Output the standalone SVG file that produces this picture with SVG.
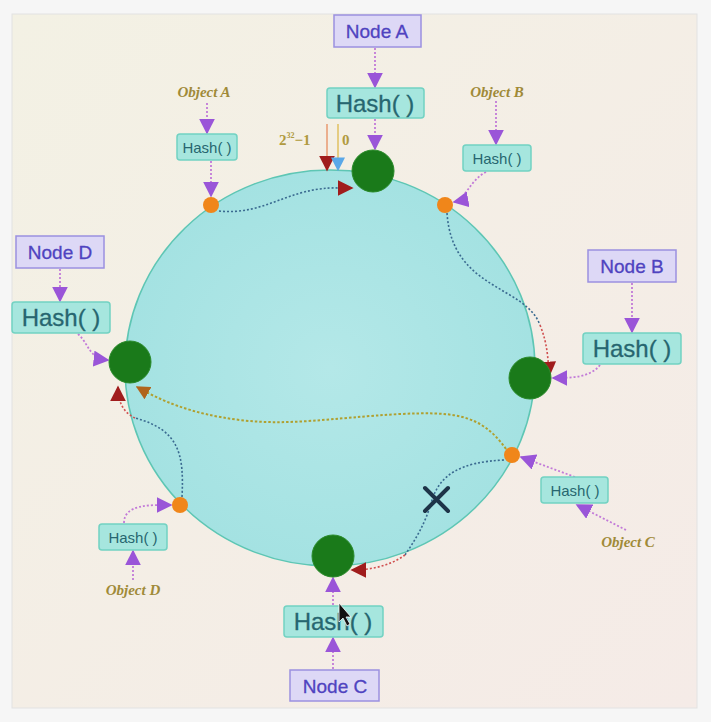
<svg xmlns="http://www.w3.org/2000/svg" width="711" height="722" viewBox="0 0 711 722">
<defs>
<linearGradient id="bg" x1="0" y1="0" x2="1" y2="1">
<stop offset="0" stop-color="#f3f1e4"/><stop offset="1" stop-color="#f5ebe7"/>
</linearGradient>
<radialGradient id="ring" cx="0.5" cy="0.5" r="0.5">
<stop offset="0" stop-color="#b4e8e8"/><stop offset="1" stop-color="#a4e2e2"/>
</radialGradient>
<marker id="pa" viewBox="0 0 10 10" refX="9" refY="5" markerWidth="16" markerHeight="16" markerUnits="userSpaceOnUse" orient="auto"><path d="M0,0 L10,5 L0,10 z" fill="#9a55d8"/></marker>
<marker id="ra" viewBox="0 0 10 10" refX="9" refY="5" markerWidth="16" markerHeight="16" markerUnits="userSpaceOnUse" orient="auto"><path d="M0,0 L10,5 L0,10 z" fill="#a01c1c"/></marker>
<marker id="oa" viewBox="0 0 10 10" refX="9" refY="5" markerWidth="14" markerHeight="14" markerUnits="userSpaceOnUse" orient="auto"><path d="M0,0 L10,5 L0,10 z" fill="#b0641c"/></marker>
<marker id="ba" viewBox="0 0 10 10" refX="9" refY="5" markerWidth="14" markerHeight="14" markerUnits="userSpaceOnUse" orient="auto"><path d="M0,0 L10,5 L0,10 z" fill="#5aa8e8"/></marker>
</defs>
<style>
.node{fill:#ddd8f6;stroke:#9b90e0;stroke-width:1.5}
.ntext{font-family:"Liberation Sans",Arial,sans-serif;font-size:19px;fill:#4f43c0;text-anchor:middle;stroke:#4f43c0;stroke-width:0.3}
.hash{fill:#a6e6de;stroke:#72d2c2;stroke-width:1.5}
.htext{font-family:"Liberation Sans",Arial,sans-serif;font-size:24px;fill:#276670;text-anchor:middle;stroke:#276670;stroke-width:0.3}
.hs{font-family:"Liberation Sans",Arial,sans-serif;font-size:15px;fill:#276670;text-anchor:middle}
.obj{font-family:"Liberation Serif","Times New Roman",serif;font-style:italic;font-weight:bold;font-size:15px;fill:#a08a38;text-anchor:middle}
.green{fill:#1a7a1a;stroke:#2a8a2a;stroke-width:1}
.orange{fill:#f0861a}
.pl{fill:none;stroke:#c27ad8;stroke-width:1.8;stroke-dasharray:2 2;marker-end:url(#pa)}
.bl{fill:none;stroke:#3a6a90;stroke-width:1.6;stroke-dasharray:2 2}
.rl{fill:none;stroke:#d05050;stroke-width:1.6;stroke-dasharray:2 2}
.yl{fill:none;stroke:#b0a030;stroke-width:2;stroke-dasharray:2.5 2}
</style>
<rect x="0" y="0" width="711" height="722" fill="#f6f6f6"/>
<rect x="12" y="14" width="685" height="694" fill="url(#bg)" stroke="#e2e2e2"/>
<ellipse cx="330" cy="368" rx="205" ry="198" fill="url(#ring)" stroke="#5ec6b4" stroke-width="1.5"/>

<g id="connectors">
<path class="pl" d="M375,48 L375,87"/>
<path class="pl" d="M375,119 L375,149"/>
<path class="pl" d="M207,103 L207,133"/>
<path class="pl" d="M211,161 L211,196"/>
<path class="pl" d="M496,101 L496,144"/>
<path class="pl" d="M486,172 C470,180 465,200 454,202"/>
<path class="pl" d="M632,283 L632,332"/>
<path class="pl" d="M600,365 C590,378 570,378 553,378"/>
<path class="pl" d="M60,269 L60,301"/>
<path class="pl" d="M78,334 C90,345 88,358 108,360"/>
<path class="pl" d="M626,530 L577,505"/>
<path class="pl" d="M575,477 L521,457"/>
<path class="pl" d="M133,580 L133,551"/>
<path class="pl" d="M124,523 C124,504 150,505 171,505"/>
<path class="pl" d="M333,669 L333,638"/>
<path class="pl" d="M333,605 L333,578"/>
<path d="M327,124 L327,170" fill="none" stroke="#e89a70" stroke-width="1.5" marker-end="url(#ra)"/>
<path d="M338,124 L338,170" fill="none" stroke="#e0c060" stroke-width="1.5" marker-end="url(#ba)"/>
<path class="bl" d="M219,211 C265,216 290,186 340,188" />
<path class="rl" d="M338,188 L352,188" marker-end="url(#ra)"/>
<path class="bl" d="M447,213 C452,290 525,285 540,325"/>
<path class="rl" d="M540,325 C548,345 548,360 549,376" marker-end="url(#ra)"/>
<path class="yl" d="M506,449 C480,412 450,412 400,414 C330,418 290,426 240,420 C190,414 160,400 137,387" marker-end="url(#oa)"/>
<path class="bl" d="M504,460 C460,462 440,475 432,500 C425,525 415,540 405,555"/>
<path class="rl" d="M405,555 C390,566 370,570 352,570" marker-end="url(#ra)"/>
<path class="bl" d="M182,497 C184,455 180,430 135,418"/>
<path class="rl" d="M135,418 C122,412 118,400 118,387" marker-end="url(#ra)"/>
</g>

<g id="ring-nodes">
<circle id="node-a-point" class="green" cx="373" cy="171" r="21"/>
<circle id="node-b-point" class="green" cx="530" cy="378" r="21"/>
<circle id="node-c-point" class="green" cx="333" cy="556" r="21"/>
<circle id="node-d-point" class="green" cx="130" cy="362" r="21"/>
<circle id="object-a-point" class="orange" cx="211" cy="205" r="8"/>
<circle id="object-b-point" class="orange" cx="445" cy="205" r="8"/>
<circle id="object-c-point" class="orange" cx="512" cy="455" r="8"/>
<circle id="object-d-point" class="orange" cx="180" cy="505" r="8"/>
</g>

<g id="node-a"><rect class="node" x="334" y="15" width="87" height="32"/><text class="ntext" x="377" y="38">Node A</text></g>
<g id="hash-a"><rect class="hash" x="327" y="88" width="97" height="30" rx="3"/><text class="htext" x="375" y="112">Hash( )</text></g>
<g id="node-b"><rect class="node" x="588" y="250" width="88" height="32"/><text class="ntext" x="632" y="273">Node B</text></g>
<g id="hash-b"><rect class="hash" x="583" y="333" width="98" height="31" rx="3"/><text class="htext" x="632" y="357">Hash( )</text></g>
<g id="node-c"><rect class="node" x="290" y="670" width="89" height="31"/><text class="ntext" x="335" y="693">Node C</text></g>
<g id="hash-c"><rect class="hash" x="284" y="606" width="99" height="31" rx="3"/><text class="htext" x="333" y="630">Hash( )</text></g>
<g id="node-d"><rect class="node" x="16" y="236" width="88" height="32"/><text class="ntext" x="60" y="259">Node D</text></g>
<g id="hash-d"><rect class="hash" x="12" y="302" width="98" height="31" rx="3"/><text class="htext" x="61" y="326">Hash( )</text></g>

<g id="object-a"><text class="obj" x="204" y="97">Object A</text></g>
<g id="hash-obj-a"><rect class="hash" x="177" y="134" width="60" height="26" rx="3"/><text class="hs" x="207" y="153">Hash( )</text></g>
<g id="object-b"><text class="obj" x="497" y="97">Object B</text></g>
<g id="hash-obj-b"><rect class="hash" x="463" y="145" width="68" height="26" rx="3"/><text class="hs" x="497" y="164">Hash( )</text></g>
<g id="object-c"><text class="obj" x="628" y="547">Object C</text></g>
<g id="hash-obj-c"><rect class="hash" x="541" y="477" width="67" height="26" rx="3"/><text class="hs" x="575" y="496">Hash( )</text></g>
<g id="object-d"><text class="obj" x="133" y="595">Object D</text></g>
<g id="hash-obj-d"><rect class="hash" x="99" y="524" width="68" height="26" rx="3"/><text class="hs" x="133" y="543">Hash( )</text></g>

<g id="range-labels" font-family="'Liberation Serif','Times New Roman',serif" font-size="15" font-weight="bold" fill="#b09a40">
<text x="279" y="145">2<tspan font-size="8" dy="-7">32</tspan><tspan dy="7">−1</tspan></text>
<text x="342" y="145">0</text>
</g>

<g id="x-mark" stroke="#1e3448" stroke-width="4" stroke-linecap="round">
<path d="M425,488 L448,511 M448,488 L425,511"/>
</g>

<g id="cursor"><path d="M339,603 L339,622 L343,618 L347,626 L350,624 L346,617 L351,617 Z" fill="#111" stroke="#fff" stroke-width="0.8"/></g>
</svg>
